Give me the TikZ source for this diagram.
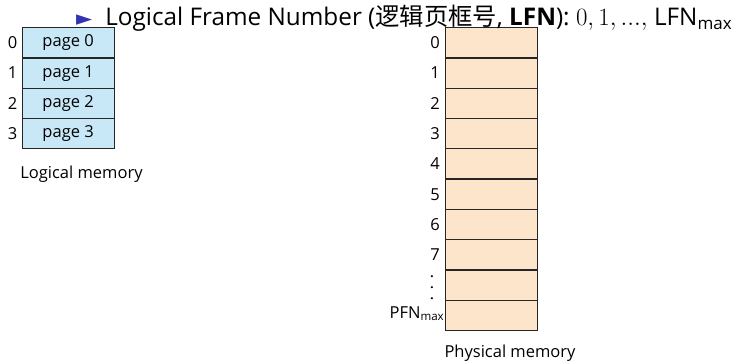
\documentclass[tikz,border=0pt]{standalone}
\usepackage{fontspec}
\setmainfont{Open Sans}
\newfontfamily\cjk{Noto Sans CJK SC}
\newfontfamily\symf{DejaVu Sans}
\usepackage{amsmath}
\definecolor{lblue}{RGB}{200,232,248}
\definecolor{peach}{RGB}{253,229,204}
\definecolor{struct}{RGB}{51,51,179}
\begin{document}
\begin{tikzpicture}[x=1pt,y=-1pt,
  lbox/.style={draw=black!85,line width=1.3pt,fill=lblue,minimum width=92pt,minimum height=30.3pt,inner sep=0pt,font=\fontsize{16.5}{18}\selectfont,anchor=north west},
  pbox/.style={draw=black!85,line width=1.3pt,fill=peach,minimum width=92pt,minimum height=30.3pt,inner sep=0pt,anchor=north west},
  idx/.style={font=\fontsize{16.5}{18}\selectfont,anchor=east,inner sep=4pt},
  captxt/.style={font=\fontsize{16.5}{18}\selectfont,anchor=base}]
\useasboundingbox (0,0) rectangle (740,363);
\foreach \i in {0,...,3}{
  \node[lbox] (l\i) at (21.5,{27+30.3*\i}) {page \i};
  \node[idx] (li\i) at (l\i.west) {\i};
}
\node[captxt] (lcap) at (81.5,179) {Logical memory};
\foreach \i in {0,...,9}{
  \node[pbox] (p\i) at (445,{27+30.3*\i}) {};
}
\foreach \i in {0,...,7}{
  \node[idx,inner sep=5pt] (pi\i) at (p\i.west) {\i};
}
\node[font=\fontsize{16.5}{18}\selectfont,inner sep=0pt,anchor=center] (pdots) at (432,288)
  {\rotatebox{-90}{.\hspace{6.7pt}.\hspace{6.7pt}.}};
\node[idx,inner sep=0.5pt] (pimax) at ([yshift=2pt]p9.west) {PFN\textsubscript{max}};
\node[captxt] (pcap) at (510,358) {Physical memory};
\node[anchor=base west,inner sep=0pt,font=\fontsize{24.3}{28}\selectfont] (title) at (76,26)
  {{\color{struct}\symf\fontsize{21}{21}\selectfont ►}\hspace{13pt}Logical Frame Number ({\cjk 逻辑页框号}, \textbf{LFN}): $0, 1, ...,$ LFN\textsubscript{max}};
\end{tikzpicture}
\end{document}
